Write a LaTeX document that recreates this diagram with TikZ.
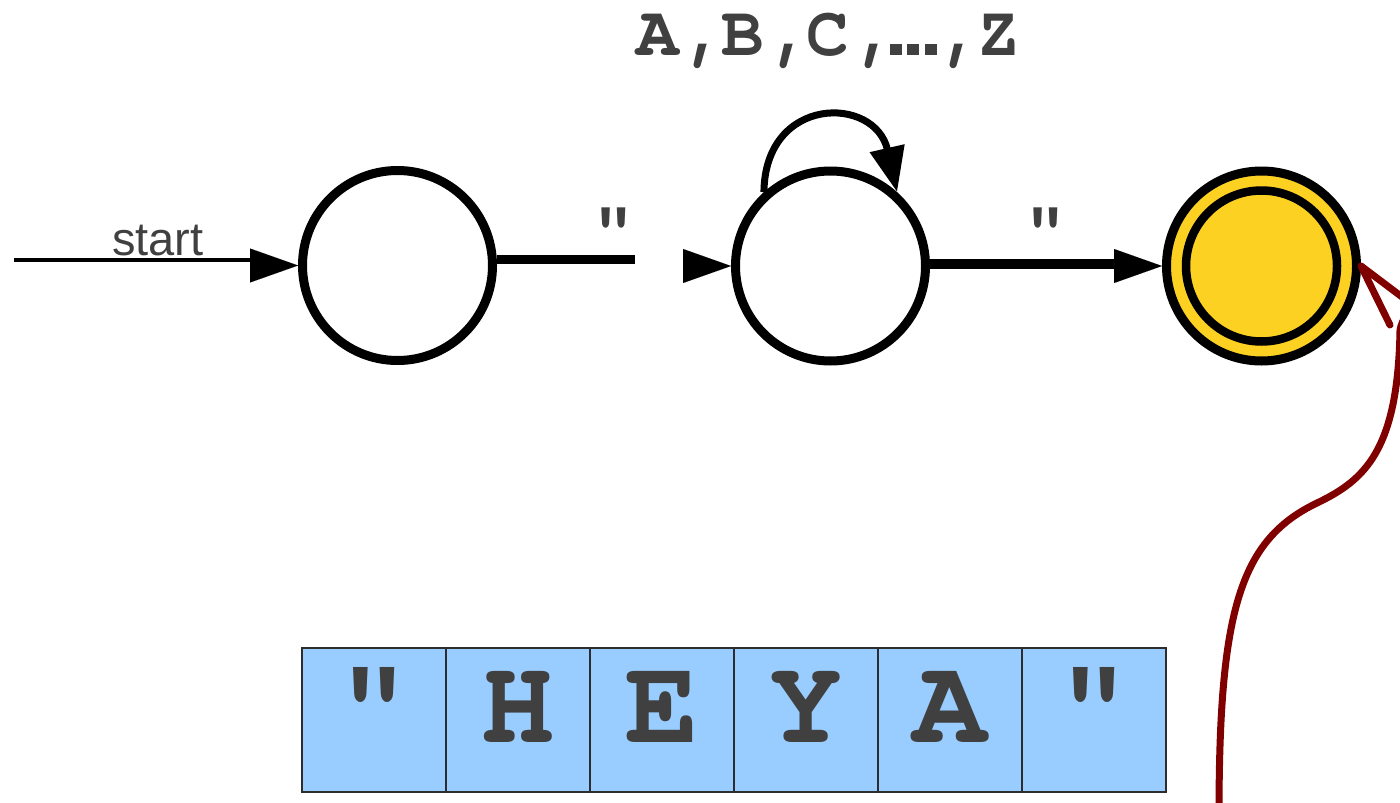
\documentclass[tikz,border=0pt]{standalone}
\usepackage{fontspec}
\setmainfont{Liberation Sans}
\newfontfamily\curfont{texgyrecursor}[Extension=.otf,UprightFont=*-regular,BoldFont=*-bold]
\usetikzlibrary{arrows.meta}
\definecolor{txtgray}{RGB}{64,64,64}
\definecolor{accyellow}{RGB}{253,209,34}
\definecolor{cellblue}{RGB}{153,204,255}
\definecolor{cellborder}{RGB}{45,45,45}
\definecolor{darkred}{RGB}{128,0,0}
\newcommand\sqdots{\makebox[42.6pt][c]{\rule{12pt}{11pt}\hspace{5.5pt}\rule{12pt}{11pt}\hspace{5.5pt}\rule{12pt}{11pt}}}
\newcommand\cmm{\makebox[42.6pt][l]{\hspace{6pt},}}
\begin{document}
\begin{tikzpicture}[x=1pt,y=-1pt,
  state/.style={circle, draw=black, line width=9pt, minimum size=190pt, inner sep=0pt, fill=white},
  innerring/.style={circle, draw=black, line width=8.5pt, minimum size=151pt, inner sep=0pt},
  tlabel/.style={font=\curfont\bfseries\fontsize{71pt}{71pt}\selectfont, text=txtgray, inner sep=0pt, anchor=base},
  startlabel/.style={font=\fontsize{47pt}{47pt}\selectfont, text=txtgray, inner sep=0pt, anchor=base},
  cell/.style={draw=cellborder, line width=1.5pt, fill=cellblue, minimum width=144pt, minimum height=144pt,
    inner sep=0pt, text height=44pt, text depth=0pt, text=txtgray,
    font=\curfont\bfseries\fontsize{122pt}{122pt}\selectfont},
  tipline/.style={line width=0.01pt},
  bigtip/.style={-{Triangle[length=48pt 0,width=34pt 0]}},
  redline/.style={draw=darkred, line width=7pt, line cap=round, line join=round}]
\useasboundingbox (0,0) rectangle (1400,803);
\clip (0,0) rectangle (1400,803);

% states
\node[state] (s1) at (397.5,265.5) {};
\node[state] (s2) at (830.5,266) {};
\node[state, fill=accyellow] (s3) at (1261.5,266) {};
\node[innerring] (s3in) at (s3) {};

% start arrow
\coordinate (st0) at (14,260);
\coordinate (st1) at (252,260);
\coordinate (st2) at (250,265.5);
\draw[line width=4pt] (st0) -- (st1);
\draw[tipline, bigtip] (st2) -- (s1.west);
\node[startlabel] (lstart) at (158,255) {start};

% 1 -> 2 (broken)
\coordinate (g1) at (635,259.5);
\coordinate (g2) at (683,266);
\draw[line width=8.5pt] ([yshift=6pt]s1.east) -- (g1);
\draw[tipline, bigtip] (g2) -- (s2.west);
\node[tlabel] (lq1) at (614,251) {"};

% 2 -> 3
\coordinate (g3) at (1116,264);
\draw[line width=10.5pt] ([yshift=2pt]s2.east) -- (g3);
\coordinate (g4) at (1114,266);
\draw[tipline, bigtip] (g4) -- (s3.west);
\node[tlabel] (lq2) at (1046,251) {"};

% self loop
\draw[line width=7pt, -{Triangle[length=45pt 0,width=34pt 0]}] (s2.132) .. controls (765,95) and (875,95) .. (s2.48);
\node[tlabel] (lloop) at (828,55) {A\cmm B\cmm C\cmm\sqdots\cmm Z};

% tape
\node[cell] (c1) at (374,720) {"};
\node[cell] (c2) at (518,720) {H};
\node[cell] (c3) at (662,720) {E};
\node[cell] (c4) at (806,720) {Y};
\node[cell] (c5) at (950,720) {A};
\node[cell] (c6) at (1094,720) {"};

% red pointer
\coordinate (r0) at (1219,815);
\coordinate (rj) at (1414,306);
\coordinate (rb) at (1390,325);
\draw[redline] (r0) .. controls (1219,610) and (1240,540) .. (1317,503)
  .. controls (1365,480) and (1398,450) .. (1400,330)
  .. controls (1402,318) and (1410,312) .. (rj) -- (s3.east) -- (rb);
\end{tikzpicture}
\end{document}
